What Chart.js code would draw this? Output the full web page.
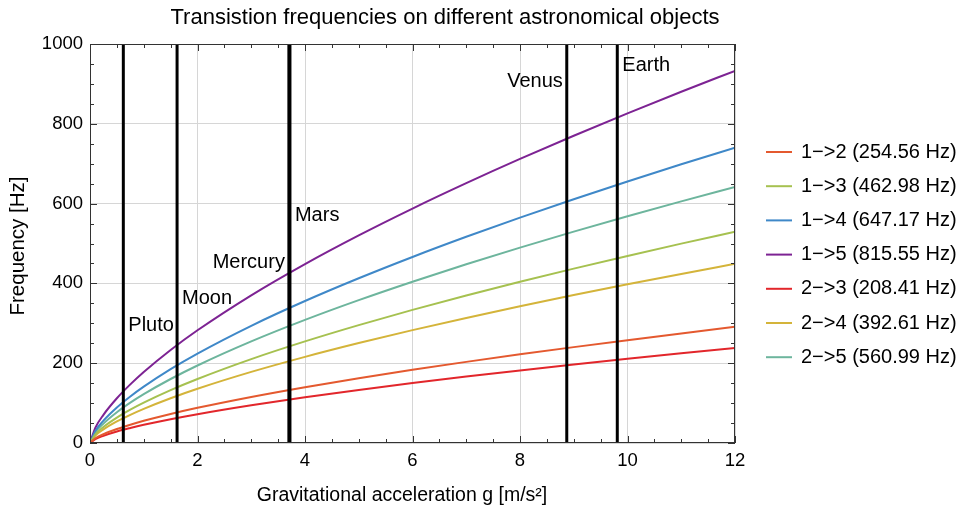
<!DOCTYPE html>
<html>
<head>
<meta charset="utf-8">
<title>Transition frequencies</title>
<script src="https://cdn.jsdelivr.net/npm/chart.js@4/dist/chart.umd.min.js"></script>
<style>
  html, body { margin: 0; padding: 0; background: #fff; }
  #wrap { width: 964px; height: 511px; }
</style>
</head>
<body>
<div id="wrap"><canvas id="c" width="964" height="511"></canvas></div>
<script>
// Gravitational acceleration samples (m/s²)
var gValues = [0, 0.1, 0.25, 0.5, 0.75, 1, 1.5, 2, 3, 4, 5, 6, 7, 8, 9, 10, 11, 12];

// Transition frequencies (Hz) at each g sample
var f12 = [0, 12.0, 22.0, 35.0, 45.9, 55.6, 72.8, 88.2, 115.5, 140.0, 162.4, 183.4, 203.3, 222.2, 240.3, 257.8, 274.7, 291.2];
var f13 = [0, 21.8, 40.1, 63.6, 83.4, 101.0, 132.4, 160.4, 210.2, 254.6, 295.4, 333.6, 369.7, 404.1, 437.1, 468.9, 499.7, 529.5];
var f14 = [0, 30.4, 56.0, 89.0, 116.6, 141.2, 185.1, 224.2, 293.8, 355.9, 412.9, 466.3, 516.8, 564.9, 611.0, 655.5, 698.5, 740.2];
var f15 = [0, 38.3, 70.6, 112.1, 146.9, 178.0, 233.2, 282.5, 370.2, 448.5, 520.4, 587.6, 651.2, 711.9, 770.0, 826.0, 880.2, 932.8];
var f23 = [0, 9.8, 18.0, 28.7, 37.5, 45.5, 59.6, 72.2, 94.6, 114.6, 133.0, 150.2, 166.4, 181.9, 196.8, 211.1, 224.9, 238.4];
var f24 = [0, 18.5, 34.0, 54.0, 70.7, 85.7, 112.3, 136.0, 178.2, 215.9, 250.5, 282.9, 313.5, 342.7, 370.7, 397.7, 423.7, 449.1];
var f25 = [0, 26.4, 48.6, 77.1, 101.1, 122.4, 160.4, 194.3, 254.6, 308.5, 358.0, 404.2, 448.0, 489.7, 529.7, 568.2, 605.5, 641.6];

var seriesLabels = ['1\u2212>2 (254.56 Hz)', '1\u2212>3 (462.98 Hz)', '1\u2212>4 (647.17 Hz)', '1\u2212>5 (815.55 Hz)',
                    '2\u2212>3 (208.41 Hz)', '2\u2212>4 (392.61 Hz)', '2\u2212>5 (560.99 Hz)'];
var seriesValues = [f12, f13, f14, f15, f23, f24, f25];
var seriesColours = ['#e4592f', '#a6c150', '#3f88c8', '#7d2393', '#e2262b', '#d4b43a', '#6db59d'];

// Surface gravity of each body and where its name sits (label y in Hz, side of the line)
var bodyNames = ['Pluto', 'Moon', 'Mercury', 'Mars', 'Venus', 'Earth'];
var bodyG = [0.62, 1.62, 3.70, 3.72, 8.87, 9.81];
var bodyLabelY = [295, 363, 452, 570, 905, 945];
var bodySide = ['right', 'right', 'left', 'right', 'left', 'right'];

var FONT = '"Liberation Sans", Arial, sans-serif';

var datasets = seriesValues.map(function(vals, i) {
    return {
        label: seriesLabels[i],
        data: vals.map(function(v, k) { return {x: gValues[k], y: v}; }),
        borderColor: seriesColours[i],
        borderWidth: 2,
        pointRadius: 0,
        cubicInterpolationMode: 'monotone',
        fill: false,
        order: 2
    };
});

bodyG.forEach(function(g, i) {
    datasets.push({
        label: bodyNames[i],
        data: [{x: g, y: 0}, {x: g, y: 1000}],
        borderColor: '#000',
        borderWidth: 3,
        pointRadius: 0,
        fill: false,
        order: 1
    });
});

// Frame, inward ticks, titles, body names and legend
var decorPlugin = {
    id: 'decor',
    afterDatasetsDraw: function(chart) {
        var ctx = chart.ctx;
        var a = chart.chartArea;
        var xs = chart.scales.x;
        var ys = chart.scales.y;
        var v, px, major;

        ctx.save();
        ctx.strokeStyle = '#333';
        ctx.lineWidth = 1;
        ctx.strokeRect(a.left + 0.5, a.top + 0.5, a.right - a.left - 1, a.bottom - a.top - 1);

        ctx.beginPath();
        for (v = 0; v <= 12.001; v += 0.5) {
            px = Math.round(xs.getPixelForValue(v)) + 0.5;
            major = Math.abs(v / 2 - Math.round(v / 2)) < 1e-6;
            var lx = major ? 7 : 4;
            ctx.moveTo(px, a.bottom); ctx.lineTo(px, a.bottom - lx);
            ctx.moveTo(px, a.top); ctx.lineTo(px, a.top + lx);
        }
        for (v = 0; v <= 1000.1; v += 50) {
            px = Math.round(ys.getPixelForValue(v)) + 0.5;
            major = v % 200 === 0;
            var ly = major ? 7 : 4;
            ctx.moveTo(a.left, px); ctx.lineTo(a.left + ly, px);
            ctx.moveTo(a.right, px); ctx.lineTo(a.right - ly, px);
        }
        ctx.stroke();

        // Body names next to their lines
        ctx.fillStyle = '#000';
        ctx.font = '20px ' + FONT;
        ctx.textBaseline = 'middle';
        bodyNames.forEach(function(name, i) {
            var bx = xs.getPixelForValue(bodyG[i]);
            var by = ys.getPixelForValue(bodyLabelY[i]);
            if (bodySide[i] === 'left') {
                ctx.textAlign = 'right';
                ctx.fillText(name, bx - 4, by);
            } else {
                ctx.textAlign = 'left';
                ctx.fillText(name, bx + 5, by);
            }
        });

        // Title
        ctx.textAlign = 'center';
        ctx.font = '22px ' + FONT;
        ctx.fillText('Transistion frequencies on different astronomical objects', 445, 18);

        // Axis titles
        ctx.font = '19.5px ' + FONT;
        ctx.fillText('Gravitational acceleration g [m/s\u00b2]', 402, 496);
        ctx.save();
        ctx.font = '20.5px ' + FONT;
        ctx.translate(18, 246);
        ctx.rotate(-Math.PI / 2);
        ctx.fillText('Frequency [Hz]', 0, 0);
        ctx.restore();

        // Legend
        ctx.textAlign = 'left';
        ctx.font = '20px ' + FONT;
        seriesLabels.forEach(function(lbl, i) {
            var yy = 152 + i * 34.2;
            ctx.strokeStyle = seriesColours[i];
            ctx.lineWidth = 2;
            ctx.beginPath();
            ctx.moveTo(766, yy);
            ctx.lineTo(792, yy);
            ctx.stroke();
            ctx.fillStyle = '#000';
            ctx.fillText(lbl, 801, yy);
        });
        ctx.restore();
    }
};

new Chart(document.getElementById('c'), {
    type: 'line',
    data: {datasets: datasets},
    options: {
        responsive: false,
        animation: false,
        layout: {padding: {top: 44, right: 229, bottom: 0, left: 0}},
        scales: {
            x: {
                type: 'linear',
                min: 0,
                max: 12,
                afterFit: function(s) { s.height = 68; },
                ticks: {stepSize: 2, padding: 7, color: '#000', font: {family: FONT, size: 18.5}, maxRotation: 0},
                grid: {color: '#d6d6d6', drawTicks: false},
                border: {display: false}
            },
            y: {
                min: 0,
                max: 1000,
                afterFit: function(s) { s.width = 90; },
                ticks: {
                    stepSize: 200, padding: 7, color: '#000', font: {family: FONT, size: 18.5},
                    callback: function(v) { return String(v); }
                },
                grid: {color: '#d6d6d6', drawTicks: false},
                border: {display: false}
            }
        },
        plugins: {
            legend: {display: false},
            title: {display: false},
            tooltip: {enabled: false}
        }
    },
    plugins: [decorPlugin]
});
</script>
</body>
</html>
